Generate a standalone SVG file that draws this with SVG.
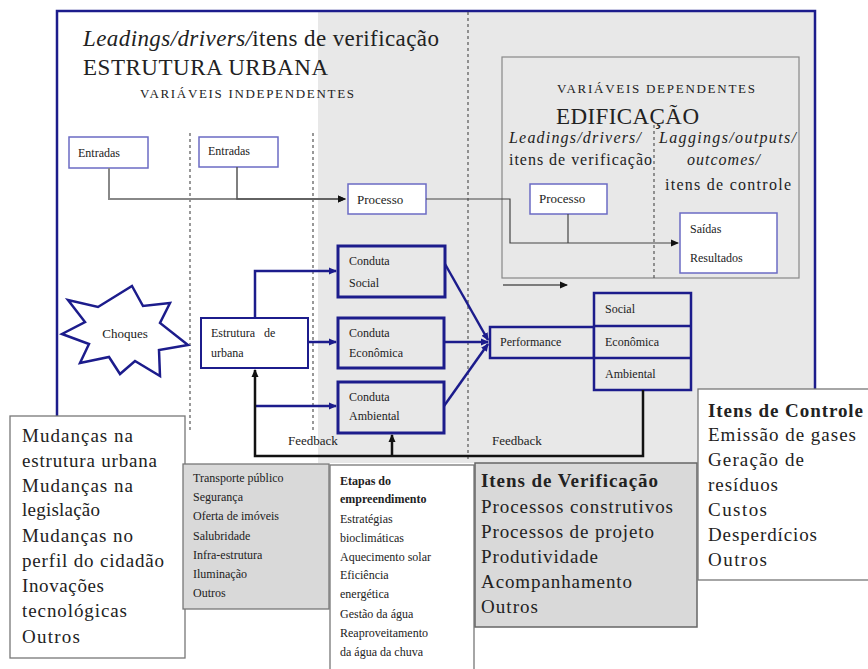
<svg xmlns="http://www.w3.org/2000/svg" width="868" height="669" viewBox="0 0 868 669" font-family="'Liberation Serif', Tinos, 'DejaVu Serif', 'Noto Serif', serif">
<style>
text{font-family:"Liberation Serif",Tinos,"Times New Roman","DejaVu Serif","Noto Serif",serif;fill:#222}
.s12{font-size:12px}.s13{font-size:13px}.s15{font-size:16px}.s18{font-size:19px}.s22{font-size:23px}
.thin{fill:#fff;stroke:#6b6bc4;stroke-width:1.5}
.blue{fill:none;stroke:#1c1c8c;stroke-width:2.5}
.bbox{fill:#e8e8e8;stroke:#1c1c8c;stroke-width:3}
.dash{stroke:#555;stroke-width:1.2;stroke-dasharray:3,3;fill:none}
.gbox{stroke:#777;stroke-width:1.3}
</style>
<defs>
<marker id="ab" markerWidth="8" markerHeight="8" refX="7" refY="4" orient="auto" markerUnits="userSpaceOnUse"><path d="M0,0.5 L8,4 L0,7.5Z" fill="#1c1c8c"/></marker>
<marker id="ak" markerWidth="8" markerHeight="8" refX="7" refY="4" orient="auto" markerUnits="userSpaceOnUse"><path d="M0,0.5 L8,4 L0,7.5Z" fill="#111"/></marker>
</defs>
<rect width="868" height="669" fill="#fff"/>
<rect x="318" y="12" width="497" height="451" fill="#e8e8e8"/>
<path d="M57,416 V11 H815 V389" fill="none" stroke="#1c1c8c" stroke-width="2.5"/>
<g id="dividers">
<line class="dash" x1="190" y1="133" x2="190" y2="432"/>
<line class="dash" x1="313" y1="133" x2="313" y2="432"/>
<line class="dash" x1="468" y1="12" x2="468" y2="462"/>
</g>
<g id="titles">
<text class="s22" x="83" y="46" textLength="356"><tspan font-style="italic">Leadings/drivers/</tspan>itens de verificação</text>
<text class="s22" x="83" y="75" textLength="245">ESTRUTURA URBANA</text>
<text class="s13" x="140" y="98" textLength="214">VARIÁVEIS INDEPENDENTES</text>
</g>
<g id="edificacao">
<rect x="502" y="57" width="297" height="221" fill="none" stroke="#888" stroke-width="1.2"/>
<line class="dash" x1="654" y1="125" x2="654" y2="278"/>
<text class="s13" x="557" y="93" textLength="198">VARIÁVEIS DEPENDENTES</text>
<text class="s22" x="556" y="124" textLength="143">EDIFICAÇÃO</text>
<text class="s15" x="509" y="143" font-style="italic" textLength="132">Leadings/drivers/</text>
<text class="s15" x="509" y="165" textLength="143">itens de verificação</text>
<text class="s15" x="659" y="143" font-style="italic" textLength="137">Laggings/outputs/</text>
<text class="s15" x="687" y="165" font-style="italic" textLength="73">outcomes/</text>
<text class="s15" x="665" y="190" textLength="126">itens de controle</text>
</g>
<g id="entradas1"><rect class="thin" x="69" y="137" width="79" height="31"/><text class="s12" x="78" y="157">Entradas</text></g>
<g id="entradas2"><rect class="thin" x="199" y="137" width="79" height="30"/><text class="s12" x="208" y="155">Entradas</text></g>
<g id="processo1"><rect class="thin" x="348" y="184" width="78" height="30"/><text class="s13" x="357" y="204">Processo</text></g>
<g id="processo2"><rect class="thin" x="530" y="184" width="77" height="30"/><text class="s13" x="539" y="203">Processo</text></g>
<g id="saidas"><rect class="thin" x="680" y="213" width="97" height="60"/><text class="s12" x="690" y="233">Saídas</text><text class="s12" x="690" y="262">Resultados</text></g>
<g id="choques">
<polygon points="132,286 143,306 170,303 160,323 188,345 159,350 160,376 135,361 120,374 109,357 80,363 89,344 62,334 85,322 68,300 98,307" fill="#fff" stroke="#1c1c8c" stroke-width="2.5" stroke-linejoin="miter"/>
<text class="s13" x="125" y="338" text-anchor="middle">Choques</text>
</g>
<g id="estrutura"><rect x="201" y="318" width="107" height="50" fill="#fff" stroke="#1c1c8c" stroke-width="2"/><text class="s12" x="211" y="337" word-spacing="6">Estrutura de</text><text class="s12" x="211" y="357">urbana</text></g>
<g id="conduta-social"><rect class="bbox" x="338" y="246" width="107" height="51"/><text class="s12" x="349" y="265">Conduta</text><text class="s12" x="349" y="287">Social</text></g>
<g id="conduta-economica"><rect class="bbox" x="338" y="318" width="106" height="50"/><text class="s12" x="349" y="337">Conduta</text><text class="s12" x="349" y="357">Econômica</text></g>
<g id="conduta-ambiental"><rect class="bbox" x="338" y="382" width="106" height="51"/><text class="s12" x="349" y="401">Conduta</text><text class="s12" x="349" y="420">Ambiental</text></g>
<g id="performance"><rect x="490" y="327" width="104" height="31" fill="#e8e8e8" stroke="#1c1c8c" stroke-width="2.5"/><text class="s12" x="500" y="346">Performance</text></g>
<g id="dimensoes">
<rect x="594" y="293" width="97" height="97" fill="#e8e8e8" stroke="#1c1c8c" stroke-width="2.5"/>
<line x1="594" y1="326" x2="691" y2="326" stroke="#1c1c8c" stroke-width="2.5"/>
<line x1="594" y1="358" x2="691" y2="358" stroke="#1c1c8c" stroke-width="2.5"/>
<text class="s12" x="605" y="313">Social</text><text class="s12" x="605" y="346">Econômica</text><text class="s12" x="605" y="378">Ambiental</text>
</g>
<g id="connectors">
<path d="M109,168 V199 H345" fill="none" stroke="#888" stroke-width="2" marker-end="url(#ak)"/>
<path d="M237,167 V199 H345" fill="none" stroke="#555" stroke-width="1.5" marker-end="url(#ak)"/>
<path d="M426,199 H510 V243 H678" fill="none" stroke="#444" stroke-width="1.2" marker-end="url(#ak)"/>
<path d="M568,214 V243" fill="none" stroke="#444" stroke-width="1.2"/>
<path d="M503,285 H567" fill="none" stroke="#111" stroke-width="1.2" marker-end="url(#ak)"/>
<path class="blue" d="M255,318 V271 H336" marker-end="url(#ab)"/>
<path class="blue" d="M308,342 H336" marker-end="url(#ab)"/>
<path class="blue" d="M255,406 H336" marker-end="url(#ab)"/>
<path class="blue" d="M445,264 L488,340" marker-end="url(#ab)"/>
<path class="blue" d="M444,342 H488" marker-end="url(#ab)"/>
<path class="blue" d="M444,406 L488,344" marker-end="url(#ab)"/>
<path d="M643,390 V456 H255 V370" fill="none" stroke="#111" stroke-width="2.5" marker-end="url(#ak)"/>
<path d="M392,456 V435" fill="none" stroke="#111" stroke-width="2.5" marker-end="url(#ak)"/>
<text class="s13" x="288" y="445">Feedback</text>
<text class="s13" x="492" y="445">Feedback</text>
</g>
<g id="mudancas">
<rect class="gbox" x="10" y="416" width="175" height="242" fill="#fff"/>
<g class="s18"><text x="22" y="442" textLength="111">Mudanças na</text><text x="22" y="467" textLength="135">estrutura urbana</text><text x="22" y="492" textLength="111">Mudanças na</text><text x="22" y="516" textLength="78">legislação</text><text x="22" y="542" textLength="111">Mudanças no</text><text x="22" y="567" textLength="142">perfil do cidadão</text><text x="22" y="592" textLength="82">Inovações</text><text x="22" y="617" textLength="105">tecnológicas</text><text x="22" y="643" textLength="58">Outros</text></g>
</g>
<g id="transporte">
<rect class="gbox" x="183" y="464" width="146" height="145" fill="#d9d9d9"/>
<g class="s12"><text x="193" y="482">Transporte público</text><text x="193" y="501">Segurança</text><text x="193" y="520">Oferta de imóveis</text><text x="193" y="540">Salubridade</text><text x="193" y="559">Infra-estrutura</text><text x="193" y="578">Iluminação</text><text x="193" y="597">Outros</text></g>
</g>
<g id="etapas">
<rect class="gbox" x="330" y="465" width="144" height="210" fill="#fff"/>
<g class="s12"><text x="340" y="485" font-weight="bold">Etapas do</text><text x="340" y="503" font-weight="bold">empreendimento</text><text x="340" y="523">Estratégias</text><text x="340" y="542">bioclimáticas</text><text x="340" y="561">Aquecimento solar</text><text x="340" y="579">Eficiência</text><text x="340" y="598">energética</text><text x="340" y="618">Gestão da água</text><text x="340" y="637">Reaproveitamento</text><text x="340" y="656">da água da chuva</text></g>
</g>
<g id="verificacao">
<rect x="475" y="463" width="222" height="164" fill="#d9d9d9" stroke="#666" stroke-width="1.5"/>
<g class="s18"><text x="481" y="487" font-weight="bold" textLength="177">Itens de Verificação</text><text x="481" y="513" textLength="192">Processos construtivos</text><text x="481" y="538" textLength="173">Processos de projeto</text><text x="481" y="563" textLength="117">Produtividade</text><text x="481" y="588" textLength="151">Acompanhamento</text><text x="481" y="613" textLength="57">Outros</text></g>
</g>
<g id="controle">
<rect class="gbox" x="698" y="389" width="175" height="191" fill="#fff"/>
<g class="s18"><text x="708" y="417" font-weight="bold" textLength="155">Itens de Controle</text><text x="708" y="441" textLength="148">Emissão de gases</text><text x="708" y="466" textLength="96">Geração de</text><text x="708" y="491" textLength="70">resíduos</text><text x="708" y="516" textLength="59">Custos</text><text x="708" y="541" textLength="109">Desperdícios</text><text x="708" y="566" textLength="59">Outros</text></g>
</g>
</svg>
